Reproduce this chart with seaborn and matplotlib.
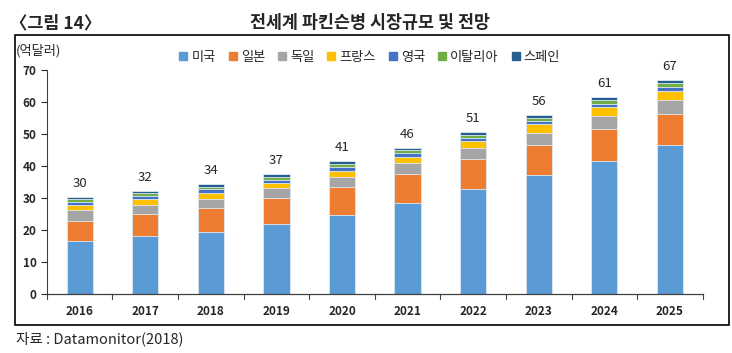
import pandas as pd
import matplotlib.pyplot as plt
import matplotlib.patches as mpatches
import seaborn as sns

sns.set_style('white')
plt.rcParams['font.family'] = ['Noto Sans CJK KR', 'DejaVu Sans']
plt.rcParams['axes.unicode_minus'] = False

# 데이터 (억달러)
years = ['2016', '2017', '2018', '2019', '2020', '2021', '2022', '2023', '2024', '2025']
countries = ['미국', '일본', '독일', '프랑스', '영국', '이탈리아', '스페인']
us = [16.5, 18.1, 19.5, 21.8, 24.6, 28.5, 32.8, 37.2, 41.7, 46.5]
japan = [6.4, 6.8, 7.5, 8.1, 8.9, 9.1, 9.3, 9.4, 9.8, 9.7]
germany = [3.3, 3.0, 2.8, 3.1, 3.2, 3.3, 3.6, 3.8, 4.2, 4.5]
france = [1.6, 1.7, 1.9, 1.6, 1.8, 2.0, 2.1, 2.6, 2.6, 2.7]
uk = [0.9, 1.0, 1.0, 1.0, 1.1, 1.1, 1.0, 1.1, 1.2, 1.4]
italy = [0.85, 1.0, 0.8, 1.1, 1.0, 1.0, 1.0, 1.0, 1.0, 1.0]
spain = [0.8, 0.6, 0.9, 0.8, 0.9, 0.7, 0.8, 0.8, 1.0, 1.1]
totals = [30, 32, 34, 37, 41, 46, 51, 56, 61, 67]

colors = ['#5B9BD5', '#ED7D31', '#A5A5A5', '#FFC000', '#4472C4', '#70AD47', '#255E91']

df = pd.DataFrame({'연도': years, '미국': us, '일본': japan, '독일': germany, '프랑스': france,
                   '영국': uk, '이탈리아': italy, '스페인': spain})
cum = df[countries].cumsum(axis=1)

fig = plt.figure(figsize=(7.32, 3.53), dpi=100)
ax = fig.add_axes([0.064, 0.167, 0.896, 0.635])

# 누적값을 큰 것부터 겹쳐 그려서 누적 막대 만들기
for c, col in reversed(list(zip(countries, colors))):
    sns.barplot(x=df['연도'], y=cum[c], color=col, saturation=1, width=0.4, ax=ax,
                edgecolor='#dfe9f3', linewidth=0.6)

for i, t in enumerate(totals):
    ax.text(i, cum['스페인'][i] + 2.2, str(t), ha='center', va='bottom', fontsize=9.5)

ax.set_xlim(-0.5, 9.5)
ax.set_ylim(0, 70)
ax.set_yticks(range(0, 71, 10))
ax.set_xlabel('')
ax.set_ylabel('')
ax.set_xticks(range(10))
ax.set_xticklabels(years, fontsize=8.5, fontweight='bold')
ax.tick_params(axis='y', labelsize=8.5, length=4, direction='out', left=True, width=0.8)
ax.tick_params(axis='x', length=0, pad=8)
for lab in ax.get_yticklabels():
    lab.set_fontweight('bold')
# 카테고리 경계에 x축 눈금
for b in [i - 0.5 for i in range(11)]:
    ax.plot([b, b], [0, -1.6], color='#404040', lw=0.8, clip_on=False)
for s in ['top', 'right']:
    ax.spines[s].set_visible(False)
ax.spines['left'].set_color('#404040')
ax.spines['bottom'].set_color('#404040')
ax.spines['left'].set_linewidth(0.8)
ax.spines['bottom'].set_linewidth(0.9)

handles = [mpatches.Patch(color=col, label=c) for c, col in zip(countries, colors)]
fig.legend(handles=handles, loc='center', bbox_to_anchor=(0.505, 0.838), ncol=7, frameon=False,
           fontsize=9.5, handlelength=0.6, handleheight=0.6, handletextpad=0.3, columnspacing=1.0)

fig.text(0.022, 0.855, '(억달러)', fontsize=9.5, va='center')
fig.text(0.014, 0.935, '〈그림 14〉', fontsize=12.5, fontweight='bold', va='center')
fig.text(0.505, 0.935, '전세계 파킨슨병 시장규모 및 전망', fontsize=12.5, fontweight='bold',
         va='center', ha='center')
fig.text(0.022, 0.04, '자료 : Datamonitor(2018)', fontsize=10.5, va='center')

box = mpatches.Rectangle((0.02, 0.078), 0.976, 0.823, transform=fig.transFigure,
                         fill=False, edgecolor='black', linewidth=1.2)
fig.patches.append(box)

fig.savefig('out.png', dpi=100)
